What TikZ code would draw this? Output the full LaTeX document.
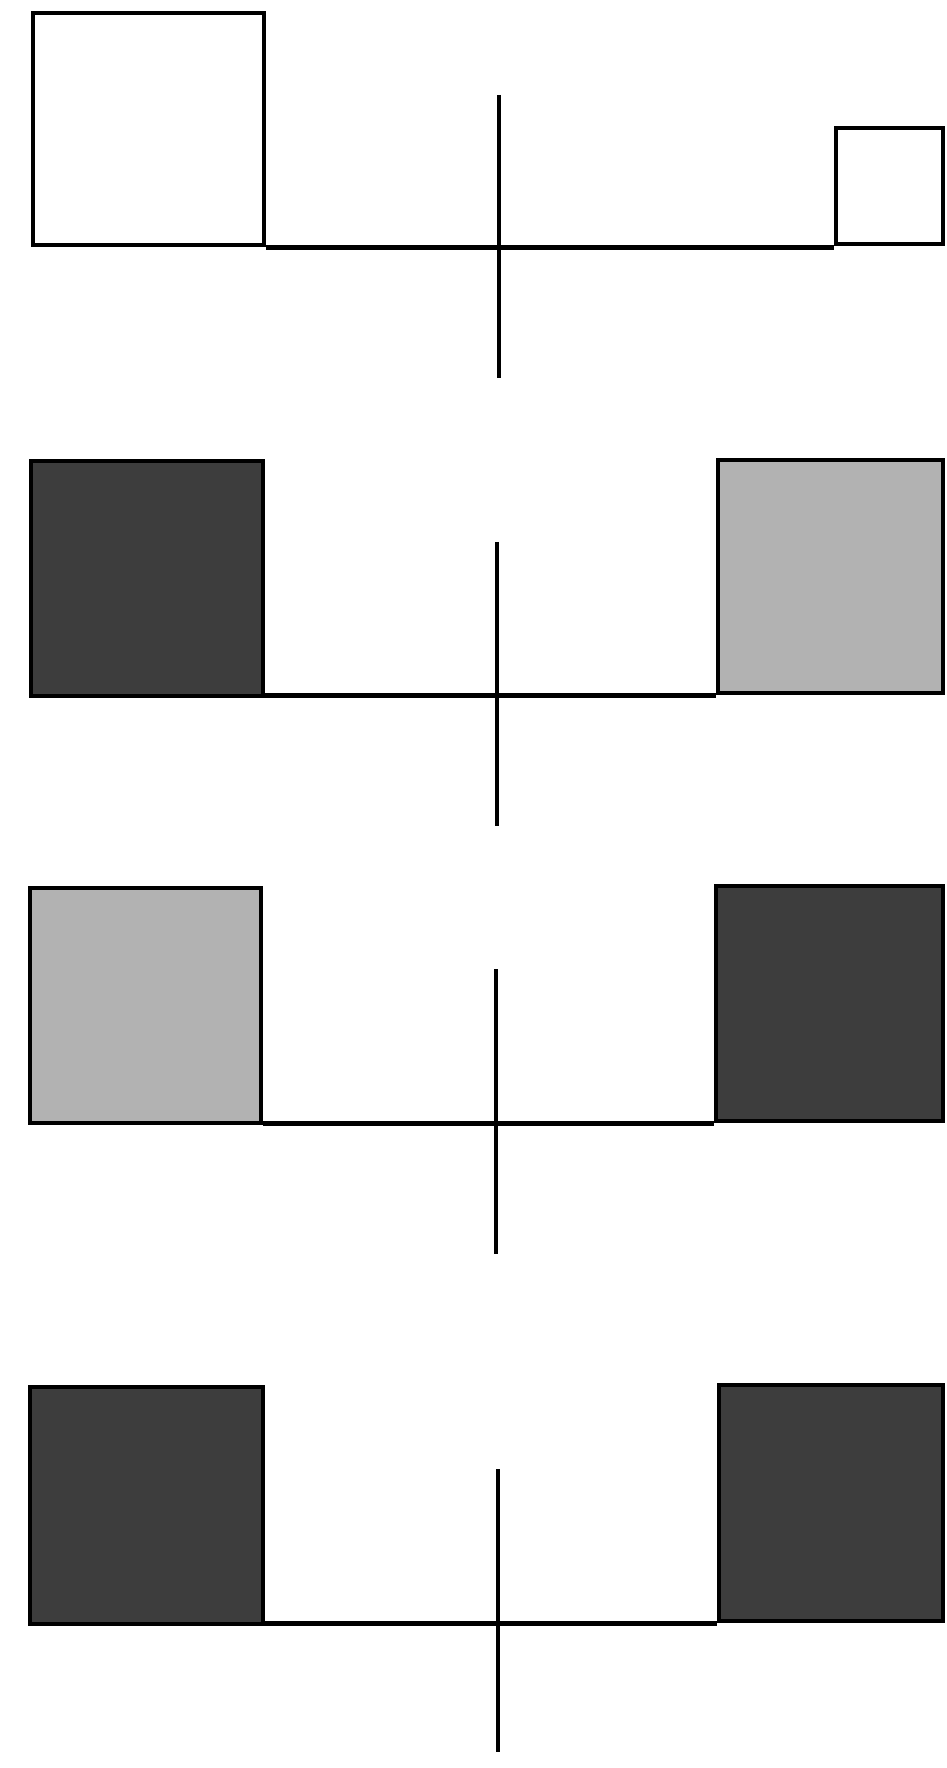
\documentclass[tikz,border=0pt]{standalone}
\usepackage{tikz}
\usetikzlibrary{positioning,calc}

\begin{document}
\begin{tikzpicture}

% ---- Styles (grayscale) ----
\tikzset{
  panel/.style={rectangle, draw, line width=1.4pt, inner sep=0pt},
  blank/.style={panel, fill=white},
  dark/.style={panel, fill=black!76},
  light/.style={panel, fill=black!30},
  beam/.style={line width=1.3pt},
}

\useasboundingbox (0,0) rectangle (9.46,-17.68);

% --- Row 1 (empty boxes, unequal) ---
\node[blank, minimum width=2.31cm, minimum height=2.32cm] (l1) at (1.485,-1.29) {};
\node[blank, minimum width=1.07cm, minimum height=1.16cm] (r1) at (8.895,-1.86) {};
\coordinate (t1) at (4.99,-0.95);
\coordinate (b1) at (4.99,-3.78);
\draw[beam] (l1.south east) -- (l1.south east -| r1.south west);
\draw[beam] (t1) -- (b1);

% --- Row 2 (dark left, light right) ---
\node[dark, minimum width=2.32cm, minimum height=2.35cm] (l2) at (1.47,-5.785) {};
\node[light, minimum width=2.25cm, minimum height=2.33cm] (r2) at (8.305,-5.765) {};
\coordinate (t2) at (4.97,-5.42);
\coordinate (b2) at (4.97,-8.26);
\draw[beam] (r2.south west) -- (r2.south west -| l2.south east);
\draw[beam] (t2) -- (b2);

% --- Row 3 (light left, dark right) ---
\node[light, minimum width=2.31cm, minimum height=2.35cm] (l3) at (1.455,-10.055) {};
\node[dark, minimum width=2.27cm, minimum height=2.35cm] (r3) at (8.295,-10.035) {};
\coordinate (t3) at (4.96,-9.69);
\coordinate (b3) at (4.96,-12.54);
\draw[beam] (r3.south west) -- (r3.south west -| l3.south east);
\draw[beam] (t3) -- (b3);

% --- Row 4 (both dark) ---
\node[dark, minimum width=2.33cm, minimum height=2.37cm] (l4) at (1.465,-15.055) {};
\node[dark, minimum width=2.24cm, minimum height=2.36cm] (r4) at (8.31,-15.03) {};
\coordinate (t4) at (4.98,-14.69);
\coordinate (b4) at (4.98,-17.52);
\draw[beam] (r4.south west) -- (r4.south west -| l4.south east);
\draw[beam] (t4) -- (b4);

\end{tikzpicture}
\end{document}
